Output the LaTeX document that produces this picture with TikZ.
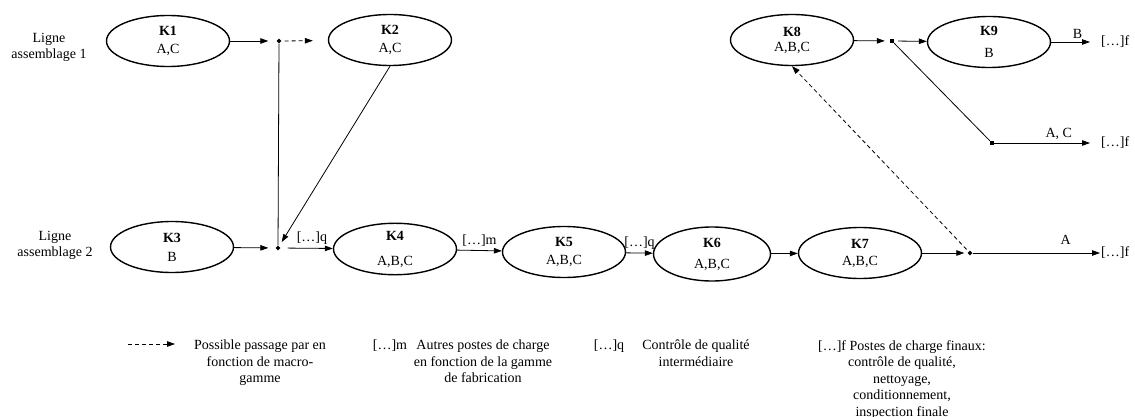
\documentclass[tikz,border=0pt]{standalone}
\usepackage{fontspec}
\setmainfont{Liberation Serif}
\usetikzlibrary{arrows.meta,shapes.geometric}

\begin{document}
\begin{tikzpicture}[x=1pt,y=-1pt,>={Triangle[length=8pt,width=5.5pt]},
  font=\fontsize{14}{16}\selectfont,
  poste/.style={ellipse,draw,line width=1.4pt,minimum width=123pt,minimum height=51pt,inner sep=0pt,align=center},
  lien/.style={->,line width=0.8pt},
  option/.style={lien,dash pattern=on 4pt off 3pt},
  pt/.style={diamond,fill,inner sep=0pt,minimum size=5pt},
  ptc/.style={rectangle,fill,inner sep=0pt,minimum size=4pt},
  txt/.style={align=center,inner sep=1pt},
  leg/.style={txt,anchor=north,font=\fontsize{14}{16.5}\selectfont}]
  \useasboundingbox (0,0) rectangle (1135,417);
  \node[txt] (L1) at (49,47) {Ligne\\assemblage 1};
  \node[txt] (L2) at (55,245) {Ligne\\assemblage 2};
  \node[poste] (K1) at (168,41) {\textbf{K1}\\[2pt]A,C};
  \node[poste] (K2) at (390,40) {\textbf{K2}\\[2pt]A,C};
  \node[poste] (K3) at (172,247) {\textbf{K3}\\[3pt]B};
  \node[poste] (K4) at (395,249) {\textbf{K4}\\[9pt]A,B,C};
  \node[poste] (K5) at (564,252) {\textbf{K5}\\[2pt]A,B,C};
  \node[poste,minimum width=117pt,minimum height=54pt] (K6) at (712,254) {\textbf{K6}\\[5pt]A,B,C};
  \node[poste] (K7) at (860,253) {\textbf{K7}\\[1pt]A,B,C};
  \node[poste] (K8) at (792,40) {\textbf{K8}\\[-1pt]A,B,C};
  \node[poste] (K9) at (989,42) {\textbf{K9}\\[6pt]B};
  \node[pt] (d1) at (279,41) {};
  \node[pt] (d2) at (278,248) {};
  \node[pt] (d3) at (970,253) {};
  \node[ptc] (d4) at (892,41) {};
  \node[ptc] (d5) at (992,143) {};
  \node[anchor=west,inner sep=1pt] (f1) at (1100,253) {[…]f};
  \node[anchor=west,inner sep=1pt] (f2) at (1100,42) {[…]f};
  \node[anchor=west,inner sep=1pt] (f3) at (1100,143) {[…]f};
  \draw[lien,shorten >=8pt] (K1) -- (d1);
  \draw[option,shorten <=3pt,shorten >=15pt] (d1) -- (K2);
  \draw[line width=0.8pt] (d1) -- (d2);
  \draw[lien,shorten >=5pt] (K2.south) -- (d2);
  \draw[lien,shorten >=7pt] (K3) -- (d2);
  \draw[lien,shorten <=7pt] (d2) -- (K4) node[pos=0.6,above]{[…]q};
  \draw[lien] (K4) -- (K5) node[midway,above]{[…]m};
  \draw[lien] (K5) -- (K6) node[midway,above]{[…]q};
  \draw[lien] (K6) -- (K7);
  \draw[lien,shorten >=3pt] (K7) -- (d3);
  \draw[lien] (d3) -- (f1) node[pos=0.73,above=5pt]{A};
  \draw[option,shorten <=3pt] (d3) -- (K8.south);
  \draw[lien,shorten >=5pt] (K8) -- (d4);
  \draw[lien,shorten <=4pt] (d4) -- (K9);
  \draw[lien,shorten >=10pt] (K9) -- (f2) node[pos=0.54,above]{B};
  \draw[line width=0.8pt] (d4) -- (d5);
  \draw[lien,shorten >=10pt] (d5) -- (f3) node[pos=0.61,above]{A, C};
  \coordinate (g1) at (128,344);
  \coordinate (g2) at (175,344);
  \draw[option] (g1) -- (g2);
  \node[leg] (t1) at (260,339) {Possible passage par en\\fonction de macro-\\gamme};
  \node[leg] (m) at (390,339) {[…]m};
  \node[leg] (t2) at (483,339) {Autres postes de charge\\en fonction de la gamme\\de fabrication};
  \node[leg] (q) at (609,339) {[…]q};
  \node[leg] (t3) at (696,339) {Contrôle de qualité\\intermédiaire};
  \node[leg] (t4) at (902,339) {[…]f Postes de charge finaux:\\contrôle de qualité,\\nettoyage,\\conditionnement,\\inspection finale};
\end{tikzpicture}
\end{document}
